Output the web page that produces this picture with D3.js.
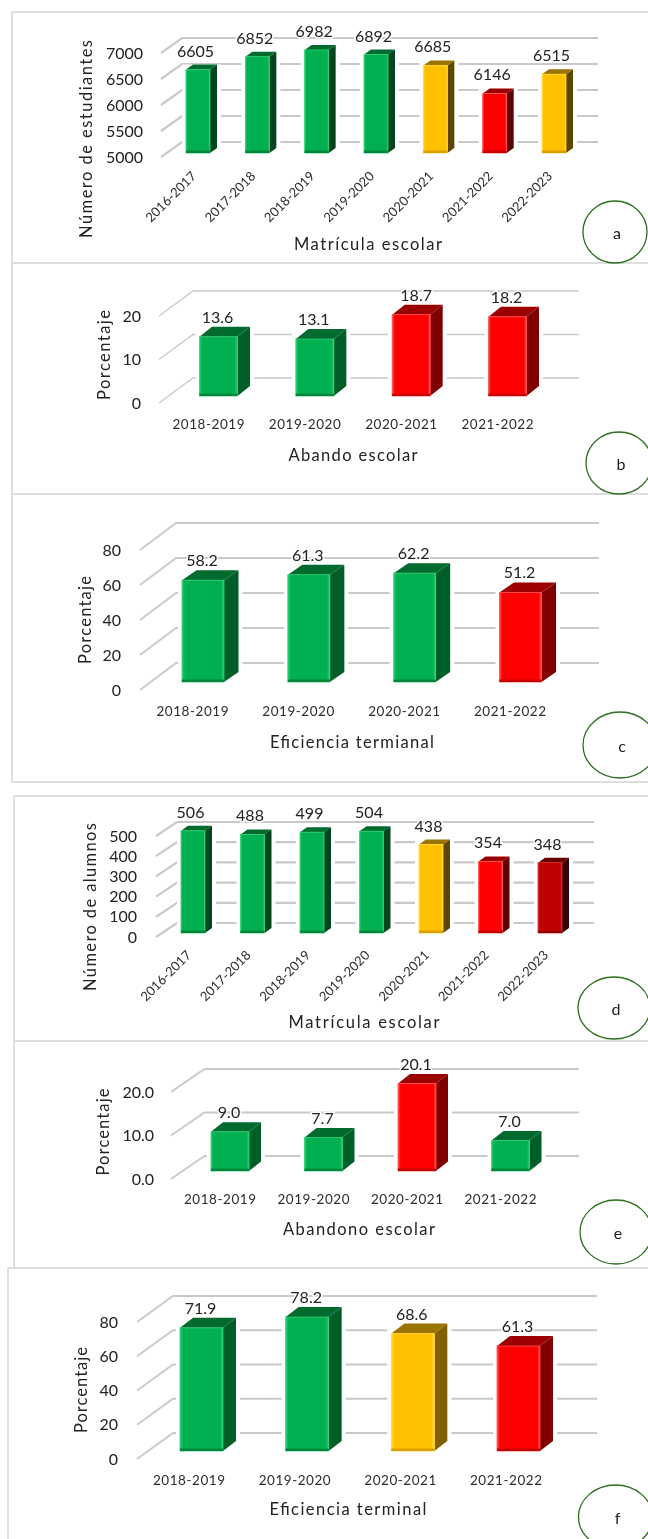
<!DOCTYPE html>
<html>
<head>
<meta charset="utf-8">
<script src="https://cdnjs.cloudflare.com/ajax/libs/d3/7.8.5/d3.min.js"></script>
<style>
  html, body { margin: 0; padding: 0; background: #fff; }
  svg { display: block; }
  text { font-family: Lato, "Open Sans", sans-serif; fill: #222; }
</style>
</head>
<body>
<div id="chart"></div>
<script>
// values
const cats7 = ["2016-2017", "2017-2018", "2018-2019", "2019-2020", "2020-2021", "2021-2022", "2022-2023"];
const cats4 = ["2018-2019", "2019-2020", "2020-2021", "2021-2022"];

const matriculaA = [6605, 6852, 6982, 6892, 6685, 6146, 6515];
const abandonoB = [13.6, 13.1, 18.7, 18.2];
const eficienciaC = [58.2, 61.3, 62.2, 51.2];
const matriculaD = [506, 488, 499, 504, 438, 354, 348];
const abandonoE = [9.0, 7.7, 20.1, 7.0];
const eficienciaF = [71.9, 78.2, 68.6, 61.3];

// g = green, y = yellow, r = red, d = dark red
const coloursA = ["g", "g", "g", "g", "y", "r", "y"];
const coloursB = ["g", "g", "r", "r"];
const coloursC = ["g", "g", "g", "r"];
const coloursD = ["g", "g", "g", "g", "y", "r", "d"];
const coloursE = ["g", "g", "r", "g"];
const coloursF = ["g", "g", "y", "r"];

const ticksA = [5000, 5500, 6000, 6500, 7000];
const ticksB = [0, 10, 20];
const ticksC = [0, 20, 40, 60, 80];
const ticksD = [0, 100, 200, 300, 400, 500];
const ticksE = [0, 10, 20];
const ticksF = [0, 20, 40, 60, 80];

const palette = {
    g: { front: "#00b050", edge: "#00863b", light: "#2ccf75", side: "#005f28", top: "#006b2d" },
    y: { front: "#ffc000", edge: "#dd9f00", light: "#ffdc3c", side: "#806000", top: "#9a7400" },
    r: { front: "#ff0000", edge: "#c80000", light: "#ff5050", side: "#800000", top: "#9c0000" },
    d: { front: "#c00000", edge: "#960000", light: "#d83030", side: "#4d0000", top: "#660000" }
};

// layout of each panel, in page pixels
const panels = [
    { cats: cats7, values: matriculaA, colours: coloursA, ticks: ticksA, fmt: d3.format("d"), valFmt: d3.format("d"),
      yTitle: "Número de estudiantes", xTitle: "Matrícula  escolar", letter: "a", rotate: true,
      wallFront: 161, wallBack: 182, wallRight: 598, backBase: 142, backTop: 38, frontBase: 157,
      first: 198, last: 554, barW: 24, base: 153, dx: 7, dy: 5, tickX: 143, catY: 177,
      yTitleX: 86, yTitleY: 139, yTitleLen: 198, xTitleX: 368, xTitleY: 244, xTitleLen: 148,
      cx: 615, cy: 232, rx: 32, ry: 31, grid: 2.2 },
    { cats: cats4, values: abandonoB, colours: coloursB, ticks: ticksB, fmt: d3.format("d"), valFmt: d3.format(".1f"),
      yTitle: "Porcentaje", xTitle: "Abando escolar", letter: "b", nudge: { 2: 6 },
      wallFront: 159, wallBack: 193, wallRight: 579, backBase: 378, backTop: 291, frontBase: 403,
      first: 218.5, last: 507.5, barW: 38, base: 396, dx: 12.5, dy: 10, tickX: 141, catY: 424, catShift: -10,
      yTitleX: 104, yTitleY: 355, yTitleLen: 90, xTitleX: 353, xTitleY: 455, xTitleLen: 129,
      cx: 619, cy: 463, rx: 33, ry: 31, grid: 1.3 },
    { cats: cats4, values: eficienciaC, colours: coloursC, ticks: ticksC, fmt: d3.format("d"), valFmt: d3.format(".1f"),
      yTitle: "Porcentaje", xTitle: "Eficiencia termianal", letter: "c",
      wallFront: 140, wallBack: 176, wallRight: 599, backBase: 663, backTop: 523, frontBase: 690,
      first: 203, last: 520.5, barW: 42, base: 682, dx: 14.5, dy: 10, tickX: 121, catY: 711, catShift: -10.5,
      yTitleX: 85, yTitleY: 620, yTitleLen: 88, xTitleX: 352, xTitleY: 742, xTitleLen: 164,
      cx: 620, cy: 745, rx: 37, ry: 33, grid: 1.8 },
    { cats: cats7, values: matriculaD, colours: coloursD, ticks: ticksD, fmt: d3.format("d"), valFmt: d3.format("d"),
      yTitle: "Número de alumnos", xTitle: "Matrícula escolar", letter: "d", rotate: true,
      wallFront: 156, wallBack: 177, wallRight: 594, backBase: 923, backTop: 822, frontBase: 937,
      first: 193, last: 550, barW: 24, base: 933, dx: 7, dy: 5, tickX: 137, catY: 956,
      yTitleX: 90, yTitleY: 907, yTitleLen: 168, xTitleX: 364, xTitleY: 1022, xTitleLen: 151,
      cx: 614, cy: 1008, rx: 36, ry: 31, grid: 2.2 },
    { cats: cats4, values: abandonoE, colours: coloursE, ticks: ticksE, fmt: d3.format(".1f"), valFmt: d3.format(".1f"),
      yTitle: "Porcentaje", xTitle: "Abandono escolar", letter: "e",
      wallFront: 171, wallBack: 204.5, wallRight: 579, backBase: 1156, backTop: 1069, frontBase: 1179,
      first: 230, last: 510.5, barW: 38, base: 1171, dx: 12, dy: 9.5, tickX: 154, catY: 1199, catShift: -10,
      yTitleX: 103, yTitleY: 1132, yTitleLen: 87, xTitleX: 359, xTitleY: 1229, xTitleLen: 152,
      cx: 616, cy: 1232, rx: 36, ry: 32, grid: 1.8 },
    { cats: cats4, values: eficienciaF, colours: coloursF, ticks: ticksF, fmt: d3.format("d"), valFmt: d3.format(".1f"),
      yTitle: "Porcentaje", xTitle: "Eficiencia terminal", letter: "f",
      wallFront: 137, wallBack: 173, wallRight: 597, backBase: 1433, backTop: 1296, frontBase: 1459,
      first: 201.5, last: 518.5, barW: 43, base: 1451, dx: 13, dy: 10, tickX: 118, catY: 1480, catShift: -12.5,
      yTitleX: 81, yTitleY: 1390, yTitleLen: 86, xTitleX: 348, xTitleY: 1509, xTitleLen: 157,
      cx: 615.5, cy: 1517, rx: 37, ry: 32, grid: 1.8 }
];

// panel borders: grey lines, each panel is open on the right
const frames = [
    [12, 12, 648, 12], [12, 12, 12, 263], [12, 263, 648, 263],
    [12, 263, 12, 494], [12, 494, 648, 494],
    [12, 494, 12, 782], [12, 782, 648, 782],
    [14, 796, 648, 796], [14, 796, 14, 1041], [14, 1041, 648, 1041],
    [14, 1041, 14, 1267], [8, 1268, 648, 1268], [8, 1268, 8, 1539]
];

const width = 648, height = 1539;

const svg = d3.select("#chart")
    .append("svg")
    .attr("width", width)
    .attr("height", height)
    .style("filter", "blur(0.5px)");

svg.selectAll(".frame")
    .data(frames)
    .join("line")
    .attr("class", "frame")
    .attr("x1", d => d[0]).attr("y1", d => d[1])
    .attr("x2", d => d[2]).attr("y2", d => d[3])
    .attr("stroke", "#dedede")
    .attr("stroke-width", 2);

// bar shading, one gradient per colour
let defs = svg.append("defs");
for (let k of Object.keys(palette)) {
    let g = defs.append("linearGradient").attr("id", "front-" + k);
    g.append("stop").attr("offset", "0%").attr("stop-color", palette[k].light);
    g.append("stop").attr("offset", "7%").attr("stop-color", palette[k].front);
    g.append("stop").attr("offset", "93%").attr("stop-color", palette[k].front);
    g.append("stop").attr("offset", "100%").attr("stop-color", palette[k].light);
}

for (let p of panels) {
    let g = svg.append("g");

    let x = d3.scalePoint().domain(p.cats).range([p.first, p.last]);

    // three parallel value scales: back wall, bar fronts, front edge of the floor
    let yBack = d3.scaleLinear()
        .domain([p.ticks[0], p.ticks[p.ticks.length - 1]])
        .range([p.backBase, p.backTop]);
    let yBar = yBack.copy().range([p.base, p.base - (p.backBase - p.backTop)]);
    let yFront = yBack.copy().range([p.frontBase, p.frontBase - (p.backBase - p.backTop)]);

    // grid: floor diagonal plus line along the back wall
    g.selectAll(".grid")
        .data(p.ticks)
        .join("polyline")
        .attr("class", "grid")
        .attr("fill", "none")
        .attr("stroke", "#c9c9c9")
        .attr("stroke-width", p.grid)
        .attr("points", d => [
            [p.wallFront, yFront(d)],
            [p.wallBack, yBack(d)],
            [p.wallRight, yBack(d)]
        ].join(" "));

    let yAxis = g.append("g")
        .attr("transform", `translate(${p.tickX},0)`)
        .call(d3.axisLeft(yFront).tickValues(p.ticks).tickFormat(p.fmt).tickSize(0).tickPadding(0));
    yAxis.select(".domain").remove();
    yAxis.selectAll("text")
        .style("font-family", "Lato, sans-serif")
        .style("font-size", "16px")
        .attr("fill", "#222");

    let rows = p.values.map((v, i) => ({ i: i, cat: p.cats[i], v: v, c: palette[p.colours[i]], key: p.colours[i] }));

    let bar = g.selectAll(".bar")
        .data(rows)
        .join("g")
        .attr("class", "bar");

    // white halo that breaks the grid lines beside each bar
    bar.append("rect")
        .attr("fill", "#fff")
        .attr("x", d => x(d.cat) - p.barW / 2 - 4)
        .attr("y", d => yBar(d.v) - p.dy)
        .attr("width", p.barW + p.dx + 8)
        .attr("height", d => p.base - yBar(d.v) + p.dy);

    bar.append("polygon")
        .attr("fill", d => p.rotate ? d3.color(d.c.side).darker(0.9) : d.c.side)
        .attr("points", d => {
            let r = x(d.cat) + p.barW / 2;
            return [[r, yBar(d.v)], [r + p.dx, yBar(d.v) - p.dy], [r + p.dx, p.base - p.dy], [r, p.base]].join(" ");
        });

    bar.append("polygon")
        .attr("fill", d => d.c.top)
        .attr("points", d => {
            let l = x(d.cat) - p.barW / 2, r = l + p.barW;
            return [[l, yBar(d.v)], [l + p.dx, yBar(d.v) - p.dy], [r + p.dx, yBar(d.v) - p.dy], [r, yBar(d.v)]].join(" ");
        });

    bar.append("rect")
        .attr("fill", d => `url(#front-${d.key})`)
        .attr("stroke", d => d.c.light)
        .attr("stroke-width", 0.8)
        .attr("x", d => x(d.cat) - p.barW / 2)
        .attr("y", d => yBar(d.v))
        .attr("width", p.barW)
        .attr("height", d => p.base - yBar(d.v));

    // darker band along the foot of the bar
    bar.append("rect")
        .attr("fill", d => d.c.edge)
        .attr("x", d => x(d.cat) - p.barW / 2)
        .attr("y", p.base - 2.5)
        .attr("width", p.barW)
        .attr("height", 2.5);

    // value labels sit on a white patch, they cut the grid lines
    bar.append("text")
        .text(d => p.valFmt(d.v))
        .attr("x", d => x(d.cat) + (p.rotate ? -2.5 : -1) + ((p.nudge && p.nudge[d.i]) || 0))
        .attr("y", d => yBar(d.v) - p.dy - (p.rotate ? 8 : 4))
        .attr("text-anchor", "middle")
        .style("font-size", "16px")
        .style("stroke", "#fff")
        .style("stroke-width", 3)
        .style("paint-order", "stroke");

    // category labels
    let catG = g.selectAll(".cat")
        .data(p.cats)
        .join("text")
        .attr("class", "cat")
        .text(d => d)
        .style("font-size", p.rotate ? "13px" : "13.5px")
        .style("fill", "#2c2c2c");
    if (p.rotate) {
        catG.attr("text-anchor", "end")
            .attr("transform", d => `translate(${x(d) - 1},${p.catY}) rotate(-45)`);
    } else {
        catG.attr("text-anchor", "middle")
            .attr("x", d => x(d) + p.catShift)
            .attr("y", p.catY + 5)
            .attr("textLength", 72);
    }

    g.append("text")
        .attr("text-anchor", "middle")
        .attr("transform", `translate(${p.yTitleX + 6},${p.yTitleY}) rotate(-90)`)
        .attr("textLength", p.yTitleLen)
        .style("font-size", "16.5px")
        .text(p.yTitle);

    g.append("text")
        .attr("text-anchor", "middle")
        .attr("x", p.xTitleX)
        .attr("y", p.xTitleY + 6)
        .attr("textLength", p.xTitleLen)
        .style("font-size", "16.5px")
        .text(p.xTitle);

    g.append("ellipse")
        .attr("cx", p.cx).attr("cy", p.cy)
        .attr("rx", p.rx).attr("ry", p.ry)
        .attr("fill", "#fff")
        .attr("stroke", "#2f6d20")
        .attr("stroke-width", 1.3);

    g.append("text")
        .attr("text-anchor", "middle")
        .attr("x", p.cx + 2)
        .attr("y", p.cy + 7)
        .style("font-size", "16px")
        .text(p.letter);
}
</script>
</body>
</html>
